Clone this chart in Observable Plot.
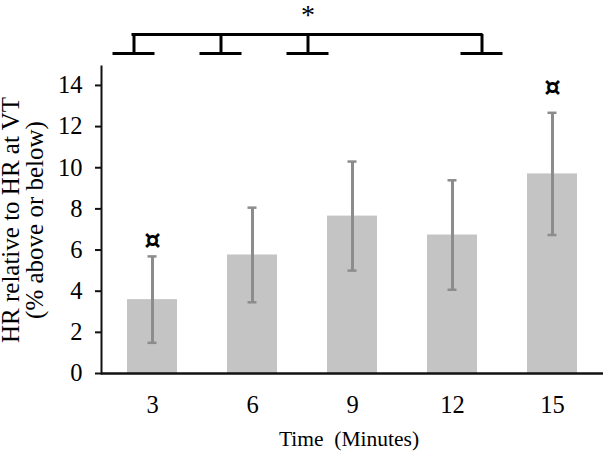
<!DOCTYPE html>
<html>
<head>
<meta charset="utf-8">
<script src="https://cdn.jsdelivr.net/npm/d3@7"></script>
<script src="https://cdn.jsdelivr.net/npm/@observablehq/plot@0.6"></script>
<style>
  html, body { margin: 0; padding: 0; background: #fff; }
  #wrap { position: relative; width: 603px; height: 452px; }
  #wrap svg { position: absolute; left: 0; top: 0; overflow: visible; }
  #wrap svg, #wrap svg text { font-family: "Liberation Serif", "Times New Roman", serif; }
  #wrap svg text.sym, #wrap svg .sym text { font-family: "DejaVu Sans", sans-serif; }
  svg text { white-space: pre; }
</style>
</head>
<body>
<div id="wrap"></div>
<script>
// ---- data ----
const times = ["3", "6", "9", "12", "15"];
const means = [3.59, 5.76, 7.65, 6.73, 9.70];
const errors = [2.10, 2.30, 2.65, 2.66, 2.97];
const sigMarks = ["¤", "", "", "", "¤"];
const sigLevels = [6.44, null, null, null, 13.87];
const yTicks = [0, 2, 4, 6, 8, 10, 12, 14];
const bracketGroups = ["3", "6", "9", "15"];
const starLabel = "*";
const starGroup = "9";
const xLabel = "Time  (Minutes)";
const yLabel1 = "HR relative to HR at VT";
const yLabel2 = "(% above or below)";

const rows = times.map((t, i) => ({
  t, mean: means[i], lo: means[i] - errors[i], hi: means[i] + errors[i],
  mark: sigMarks[i], level: sigLevels[i]
}));

const font = "Liberation Serif";

const main = Plot.plot({
  width: 603,
  height: 452,
  marginLeft: 101,
  marginRight: 0,
  marginTop: 66,
  marginBottom: 79,
  style: {fontFamily: font, background: "transparent", color: "#000"},
  x: {type: "band", domain: times, paddingInner: 0.5, paddingOuter: 0.25, axis: null},
  y: {domain: [0, 14.92], axis: null},
  marks: [
    Plot.barY(rows, {x: "t", y: "mean", fill: "#c4c4c4"}),
    Plot.ruleX(rows, {x: "t", y1: "lo", y2: "hi", stroke: "#8c8c8c", strokeWidth: 3}),
    Plot.tickY(rows, {x: "t", y: "lo", stroke: "#8c8c8c", strokeWidth: 2.5, insetLeft: 20.5, insetRight: 20.5}),
    Plot.tickY(rows, {x: "t", y: "hi", stroke: "#8c8c8c", strokeWidth: 2.5, insetLeft: 20.5, insetRight: 20.5}),
    Plot.text(rows.filter(d => d.mark), {x: "t", y: "level", text: "mark", fontSize: 26, fontWeight: "bold", fontFamily: "DejaVu Sans", className: "sym", fill: "#000"}),
    Plot.frame({anchor: "left", stroke: "#111", strokeWidth: 2}),
    Plot.axisX({domain: times, tickSize: 0, tickPadding: 21.6, fontSize: 24.5, fontFamily: font, label: null, fill: "#000"}),
    Plot.axisY({ticks: yTicks, tickSize: 6, tickPadding: 13, fontSize: 24.5, fontFamily: font, label: null, strokeWidth: 2, stroke: "#111", fill: "#000", tickFormat: d => String(d)}),
    Plot.ruleY([0], {stroke: "#111", strokeWidth: 2.5}),
    Plot.text([xLabel], {frameAnchor: "bottom", lineAnchor: "bottom", dy: 72.5, dx: -3.5, fontSize: 21.5, fontFamily: font, fill: "#000"}),
    Plot.text([yLabel1], {frameAnchor: "left", textAnchor: "middle", lineAnchor: "bottom", rotate: -90, dx: -83, fontSize: 25, fontFamily: font, fill: "#000"}),
    Plot.text([yLabel2], {frameAnchor: "left", textAnchor: "middle", lineAnchor: "bottom", rotate: -90, dx: -59, fontSize: 25, fontFamily: font, fill: "#000"})
  ]
});

const overlay = Plot.plot({
  width: 603,
  height: 70,
  marginLeft: 89.5,
  marginRight: 78.5,
  marginTop: 34,
  marginBottom: 17,
  style: {fontFamily: font, background: "transparent"},
  x: {type: "band", domain: times, padding: 0, axis: null},
  y: {domain: [0, 1], axis: null},
  marks: [
    Plot.ruleY([1], {stroke: "#000", strokeWidth: 3, insetLeft: 43.5 - 1.5, insetRight: 43.5 - 1.5}),
    Plot.ruleX(bracketGroups, {x: d => d, y1: 0, y2: 1, stroke: "#000", strokeWidth: 3}),
    Plot.tickY(bracketGroups, {x: d => d, y: () => 0, stroke: "#000", strokeWidth: 3, insetLeft: 22.5, insetRight: 22.5}),
    Plot.text([starLabel], {x: () => starGroup, frameAnchor: "top", dy: -30, fontSize: 28, fontFamily: font, fill: "#000"})
  ]
});

const wrap = document.getElementById("wrap");
wrap.appendChild(main);
wrap.appendChild(overlay);
</script>
</body>
</html>
